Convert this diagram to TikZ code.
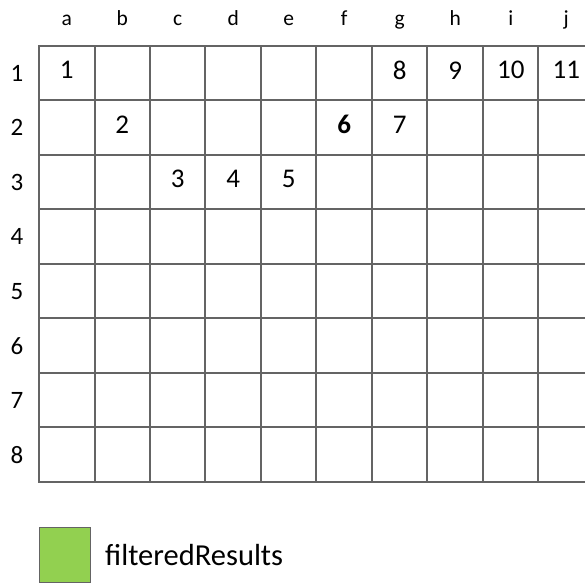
\documentclass[tikz,border=0pt]{standalone}
\usepackage{fontspec}
\setmainfont{Carlito}
\usetikzlibrary{positioning}
\definecolor{gridgray}{RGB}{100,100,100}
\definecolor{filtergreen}{RGB}{146,208,80}
\tikzset{
  gridline/.style={draw=gridgray, line width=1.6pt},
  collabel/.style={font=\fontsize{21.5}{21.5}\selectfont, anchor=base, inner sep=0pt},
  rowlabel/.style={font=\fontsize{25}{25}\selectfont, inner sep=0pt},
  cellnum/.style={font=\fontsize{27}{27}\selectfont, inner sep=0pt},
}

\begin{document}
\begin{tikzpicture}[x=1pt, y=-1pt]
  \useasboundingbox (0,0) rectangle (585,583);

  % grid lines
  \foreach \y in {46,100,155,209,264,318,373,427,482}
    \draw[gridline] (38,\y) -- (585,\y);
  \foreach \x in {39,95,150,205,261,316,372,427,483,538}
    \draw[gridline] (\x,46) -- (\x,482);

  % cell centres and headers
  \foreach \c [count=\i from 0] in {a,...,j} {
    \node[collabel] (col-\c) at (66.75+55.5*\i,26) {\c};
    \foreach \r in {1,...,8}
      \coordinate (\c\r) at (66.75+55.5*\i,73.25+54.5*\r-54.5);
  }
  \foreach \r in {1,...,8}
    \node[rowlabel] (row-\r) at (17,73.25+54.5*\r-54.5) {\r};

  % entries
  \foreach \cell/\num in {a1/1, b2/2, c3/3, d3/4, e3/5, g2/7, g1/8, h1/9, i1/10, j1/11}
    \node[cellnum] (n\num) at ([yshift=3pt]\cell) {\num};
  \node[cellnum, font=\fontsize{27}{27}\selectfont\bfseries] (n6) at ([yshift=3pt]f2) {6};

  % legend
  \node[draw=gridgray, line width=1pt, fill=filtergreen, minimum width=51pt, minimum height=55pt,
        inner sep=0pt, anchor=north west] (legendbox) at (39,527) {};
  \node[font=\fontsize{30.5}{30.5}\selectfont, inner sep=0pt, right=14pt of legendbox] (legendtext) {filteredResults};
\end{tikzpicture}
\end{document}
